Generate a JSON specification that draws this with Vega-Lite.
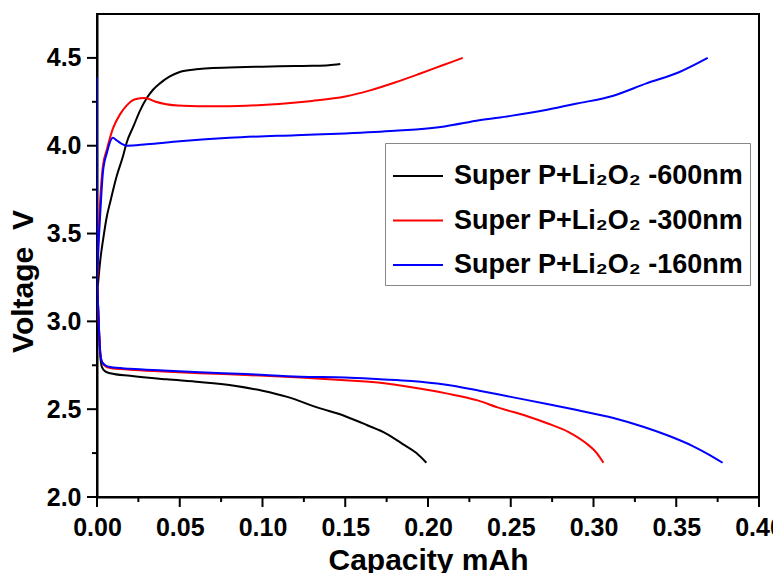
{
  "$schema": "https://vega.github.io/schema/vega-lite/v6.json",
  "width": 662,
  "height": 483,
  "autosize": {"type": "none"},
  "padding": {"left": 97, "top": 14, "right": 14, "bottom": 76},
  "background": "white",
  "config": {
    "view": {"stroke": "black", "strokeWidth": 2},
    "font": "Liberation Sans",
    "axis": {
      "domainColor": "black", "domainWidth": 2, "ticks": false,
      "grid": false, "labelFont": "Liberation Sans", "labelFontWeight": "bold", "labelFontSize": 25,
      "labelColor": "black", "titleFont": "Liberation Sans", "titleFontWeight": "bold",
      "titleFontSize": 30, "titleColor": "black", "labelOverlap": false, "labelFlush": false
    }
  },
  "layer": [
    {
      "data": {"values": [
        {"tick": 0}, {"tick": 0.05}, {"tick": 0.1}, {"tick": 0.15}, {"tick": 0.2},
        {"tick": 0.25}, {"tick": 0.3}, {"tick": 0.35}, {"tick": 0.4}
      ]},
      "mark": {"type": "rule", "color": "black", "strokeWidth": 2, "y2Offset": 10},
      "encoding": {
        "x": {"field": "tick", "type": "quantitative", "title": "Capacity mAh"},
        "y": {"datum": 2.0, "type": "quantitative", "title": "Voltage \u00a0V"},
        "y2": {"datum": 2.0}
      }
    },
    {
      "data": {"values": [
        {"tick": 0.025}, {"tick": 0.075}, {"tick": 0.125}, {"tick": 0.175},
        {"tick": 0.225}, {"tick": 0.275}, {"tick": 0.325}, {"tick": 0.375}
      ]},
      "mark": {"type": "rule", "color": "black", "strokeWidth": 2, "y2Offset": 5},
      "encoding": {
        "x": {"field": "tick", "type": "quantitative", "title": "Capacity mAh"},
        "y": {"datum": 2.0, "type": "quantitative", "title": "Voltage \u00a0V"},
        "y2": {"datum": 2.0}
      }
    },
    {
      "data": {"values": [
        {"tick": 2.0}, {"tick": 2.5}, {"tick": 3.0}, {"tick": 3.5}, {"tick": 4.0}, {"tick": 4.5}
      ]},
      "mark": {"type": "rule", "color": "black", "strokeWidth": 2, "x2Offset": -10},
      "encoding": {
        "y": {"field": "tick", "type": "quantitative", "title": "Voltage \u00a0V"},
        "x": {"datum": 0, "type": "quantitative", "title": "Capacity mAh"},
        "x2": {"datum": 0}
      }
    },
    {
      "data": {"values": [
        {"tick": 2.25}, {"tick": 2.75}, {"tick": 3.25}, {"tick": 3.75}, {"tick": 4.25}
      ]},
      "mark": {"type": "rule", "color": "black", "strokeWidth": 2, "x2Offset": -5},
      "encoding": {
        "y": {"field": "tick", "type": "quantitative", "title": "Voltage \u00a0V"},
        "x": {"datum": 0, "type": "quantitative", "title": "Capacity mAh"},
        "x2": {"datum": 0}
      }
    },
    {
      "data": {"values": [
        {"series": "Super P+Li₂O₂ -600nm", "branch": "c", "i": 1, "capacity": 0.0005, "voltage": 3.2},
        {"series": "Super P+Li₂O₂ -600nm", "branch": "c", "i": 2, "capacity": 0.002, "voltage": 3.35},
        {"series": "Super P+Li₂O₂ -600nm", "branch": "c", "i": 3, "capacity": 0.0036, "voltage": 3.46},
        {"series": "Super P+Li₂O₂ -600nm", "branch": "c", "i": 4, "capacity": 0.006, "voltage": 3.6},
        {"series": "Super P+Li₂O₂ -600nm", "branch": "c", "i": 5, "capacity": 0.008, "voltage": 3.68},
        {"series": "Super P+Li₂O₂ -600nm", "branch": "c", "i": 6, "capacity": 0.012, "voltage": 3.83},
        {"series": "Super P+Li₂O₂ -600nm", "branch": "c", "i": 7, "capacity": 0.0157, "voltage": 3.94},
        {"series": "Super P+Li₂O₂ -600nm", "branch": "c", "i": 8, "capacity": 0.018, "voltage": 4.02},
        {"series": "Super P+Li₂O₂ -600nm", "branch": "c", "i": 9, "capacity": 0.022, "voltage": 4.11},
        {"series": "Super P+Li₂O₂ -600nm", "branch": "c", "i": 10, "capacity": 0.026, "voltage": 4.2},
        {"series": "Super P+Li₂O₂ -600nm", "branch": "c", "i": 11, "capacity": 0.03, "voltage": 4.27},
        {"series": "Super P+Li₂O₂ -600nm", "branch": "c", "i": 12, "capacity": 0.034, "voltage": 4.32},
        {"series": "Super P+Li₂O₂ -600nm", "branch": "c", "i": 13, "capacity": 0.038, "voltage": 4.355},
        {"series": "Super P+Li₂O₂ -600nm", "branch": "c", "i": 14, "capacity": 0.044, "voltage": 4.395},
        {"series": "Super P+Li₂O₂ -600nm", "branch": "c", "i": 15, "capacity": 0.05, "voltage": 4.42},
        {"series": "Super P+Li₂O₂ -600nm", "branch": "c", "i": 16, "capacity": 0.06, "voltage": 4.435},
        {"series": "Super P+Li₂O₂ -600nm", "branch": "c", "i": 17, "capacity": 0.07, "voltage": 4.443},
        {"series": "Super P+Li₂O₂ -600nm", "branch": "c", "i": 18, "capacity": 0.08, "voltage": 4.445},
        {"series": "Super P+Li₂O₂ -600nm", "branch": "c", "i": 19, "capacity": 0.09, "voltage": 4.448},
        {"series": "Super P+Li₂O₂ -600nm", "branch": "c", "i": 20, "capacity": 0.1, "voltage": 4.45},
        {"series": "Super P+Li₂O₂ -600nm", "branch": "c", "i": 21, "capacity": 0.11, "voltage": 4.452},
        {"series": "Super P+Li₂O₂ -600nm", "branch": "c", "i": 22, "capacity": 0.12, "voltage": 4.454},
        {"series": "Super P+Li₂O₂ -600nm", "branch": "c", "i": 23, "capacity": 0.13, "voltage": 4.455},
        {"series": "Super P+Li₂O₂ -600nm", "branch": "c", "i": 24, "capacity": 0.14, "voltage": 4.458},
        {"series": "Super P+Li₂O₂ -600nm", "branch": "c", "i": 25, "capacity": 0.147, "voltage": 4.465},

        {"series": "Super P+Li₂O₂ -600nm", "branch": "d", "i": 1, "capacity": 0.0, "voltage": 3.25},
        {"series": "Super P+Li₂O₂ -600nm", "branch": "d", "i": 2, "capacity": 0.001, "voltage": 3.0},
        {"series": "Super P+Li₂O₂ -600nm", "branch": "d", "i": 3, "capacity": 0.002, "voltage": 2.8},
        {"series": "Super P+Li₂O₂ -600nm", "branch": "d", "i": 4, "capacity": 0.003, "voltage": 2.74},
        {"series": "Super P+Li₂O₂ -600nm", "branch": "d", "i": 5, "capacity": 0.005, "voltage": 2.715},
        {"series": "Super P+Li₂O₂ -600nm", "branch": "d", "i": 6, "capacity": 0.008, "voltage": 2.705},
        {"series": "Super P+Li₂O₂ -600nm", "branch": "d", "i": 7, "capacity": 0.02, "voltage": 2.69},
        {"series": "Super P+Li₂O₂ -600nm", "branch": "d", "i": 8, "capacity": 0.042, "voltage": 2.67},
        {"series": "Super P+Li₂O₂ -600nm", "branch": "d", "i": 9, "capacity": 0.062, "voltage": 2.655},
        {"series": "Super P+Li₂O₂ -600nm", "branch": "d", "i": 10, "capacity": 0.082, "voltage": 2.635},
        {"series": "Super P+Li₂O₂ -600nm", "branch": "d", "i": 11, "capacity": 0.1, "voltage": 2.605},
        {"series": "Super P+Li₂O₂ -600nm", "branch": "d", "i": 12, "capacity": 0.115, "voltage": 2.57},
        {"series": "Super P+Li₂O₂ -600nm", "branch": "d", "i": 13, "capacity": 0.133, "voltage": 2.51},
        {"series": "Super P+Li₂O₂ -600nm", "branch": "d", "i": 14, "capacity": 0.15, "voltage": 2.46},
        {"series": "Super P+Li₂O₂ -600nm", "branch": "d", "i": 15, "capacity": 0.163, "voltage": 2.41},
        {"series": "Super P+Li₂O₂ -600nm", "branch": "d", "i": 16, "capacity": 0.175, "voltage": 2.36},
        {"series": "Super P+Li₂O₂ -600nm", "branch": "d", "i": 17, "capacity": 0.185, "voltage": 2.3},
        {"series": "Super P+Li₂O₂ -600nm", "branch": "d", "i": 18, "capacity": 0.193, "voltage": 2.25},
        {"series": "Super P+Li₂O₂ -600nm", "branch": "d", "i": 19, "capacity": 0.199, "voltage": 2.195},

        {"series": "Super P+Li₂O₂ -300nm", "branch": "c", "i": 1, "capacity": 0.0003, "voltage": 3.25},
        {"series": "Super P+Li₂O₂ -300nm", "branch": "c", "i": 2, "capacity": 0.001, "voltage": 3.5},
        {"series": "Super P+Li₂O₂ -300nm", "branch": "c", "i": 3, "capacity": 0.002, "voltage": 3.7},
        {"series": "Super P+Li₂O₂ -300nm", "branch": "c", "i": 4, "capacity": 0.0035, "voltage": 3.88},
        {"series": "Super P+Li₂O₂ -300nm", "branch": "c", "i": 5, "capacity": 0.006, "voltage": 3.98},
        {"series": "Super P+Li₂O₂ -300nm", "branch": "c", "i": 6, "capacity": 0.0097, "voltage": 4.1},
        {"series": "Super P+Li₂O₂ -300nm", "branch": "c", "i": 7, "capacity": 0.014, "voltage": 4.18},
        {"series": "Super P+Li₂O₂ -300nm", "branch": "c", "i": 8, "capacity": 0.018, "voltage": 4.23},
        {"series": "Super P+Li₂O₂ -300nm", "branch": "c", "i": 9, "capacity": 0.023, "voltage": 4.265},
        {"series": "Super P+Li₂O₂ -300nm", "branch": "c", "i": 10, "capacity": 0.029, "voltage": 4.272},
        {"series": "Super P+Li₂O₂ -300nm", "branch": "c", "i": 11, "capacity": 0.035, "voltage": 4.252},
        {"series": "Super P+Li₂O₂ -300nm", "branch": "c", "i": 12, "capacity": 0.041, "voltage": 4.238},
        {"series": "Super P+Li₂O₂ -300nm", "branch": "c", "i": 13, "capacity": 0.052, "voltage": 4.228},
        {"series": "Super P+Li₂O₂ -300nm", "branch": "c", "i": 14, "capacity": 0.07, "voltage": 4.225},
        {"series": "Super P+Li₂O₂ -300nm", "branch": "c", "i": 15, "capacity": 0.09, "voltage": 4.228},
        {"series": "Super P+Li₂O₂ -300nm", "branch": "c", "i": 16, "capacity": 0.11, "voltage": 4.238},
        {"series": "Super P+Li₂O₂ -300nm", "branch": "c", "i": 17, "capacity": 0.13, "voltage": 4.255},
        {"series": "Super P+Li₂O₂ -300nm", "branch": "c", "i": 18, "capacity": 0.15, "voltage": 4.28},
        {"series": "Super P+Li₂O₂ -300nm", "branch": "c", "i": 19, "capacity": 0.165, "voltage": 4.315},
        {"series": "Super P+Li₂O₂ -300nm", "branch": "c", "i": 20, "capacity": 0.18, "voltage": 4.36},
        {"series": "Super P+Li₂O₂ -300nm", "branch": "c", "i": 21, "capacity": 0.195, "voltage": 4.41},
        {"series": "Super P+Li₂O₂ -300nm", "branch": "c", "i": 22, "capacity": 0.208, "voltage": 4.455},
        {"series": "Super P+Li₂O₂ -300nm", "branch": "c", "i": 23, "capacity": 0.221, "voltage": 4.5},

        {"series": "Super P+Li₂O₂ -300nm", "branch": "d", "i": 1, "capacity": 0.0, "voltage": 3.25},
        {"series": "Super P+Li₂O₂ -300nm", "branch": "d", "i": 2, "capacity": 0.001, "voltage": 3.0},
        {"series": "Super P+Li₂O₂ -300nm", "branch": "d", "i": 3, "capacity": 0.002, "voltage": 2.82},
        {"series": "Super P+Li₂O₂ -300nm", "branch": "d", "i": 4, "capacity": 0.003, "voltage": 2.77},
        {"series": "Super P+Li₂O₂ -300nm", "branch": "d", "i": 5, "capacity": 0.005, "voltage": 2.745},
        {"series": "Super P+Li₂O₂ -300nm", "branch": "d", "i": 6, "capacity": 0.008, "voltage": 2.735},
        {"series": "Super P+Li₂O₂ -300nm", "branch": "d", "i": 7, "capacity": 0.02, "voltage": 2.725},
        {"series": "Super P+Li₂O₂ -300nm", "branch": "d", "i": 8, "capacity": 0.04, "voltage": 2.715},
        {"series": "Super P+Li₂O₂ -300nm", "branch": "d", "i": 9, "capacity": 0.062, "voltage": 2.705},
        {"series": "Super P+Li₂O₂ -300nm", "branch": "d", "i": 10, "capacity": 0.09, "voltage": 2.695},
        {"series": "Super P+Li₂O₂ -300nm", "branch": "d", "i": 11, "capacity": 0.123, "voltage": 2.68},
        {"series": "Super P+Li₂O₂ -300nm", "branch": "d", "i": 12, "capacity": 0.15, "voltage": 2.665},
        {"series": "Super P+Li₂O₂ -300nm", "branch": "d", "i": 13, "capacity": 0.171, "voltage": 2.65},
        {"series": "Super P+Li₂O₂ -300nm", "branch": "d", "i": 14, "capacity": 0.19, "voltage": 2.625},
        {"series": "Super P+Li₂O₂ -300nm", "branch": "d", "i": 15, "capacity": 0.211, "voltage": 2.59},
        {"series": "Super P+Li₂O₂ -300nm", "branch": "d", "i": 16, "capacity": 0.23, "voltage": 2.55},
        {"series": "Super P+Li₂O₂ -300nm", "branch": "d", "i": 17, "capacity": 0.242, "voltage": 2.51},
        {"series": "Super P+Li₂O₂ -300nm", "branch": "d", "i": 18, "capacity": 0.26, "voltage": 2.46},
        {"series": "Super P+Li₂O₂ -300nm", "branch": "d", "i": 19, "capacity": 0.272, "voltage": 2.42},
        {"series": "Super P+Li₂O₂ -300nm", "branch": "d", "i": 20, "capacity": 0.285, "voltage": 2.37},
        {"series": "Super P+Li₂O₂ -300nm", "branch": "d", "i": 21, "capacity": 0.295, "voltage": 2.31},
        {"series": "Super P+Li₂O₂ -300nm", "branch": "d", "i": 22, "capacity": 0.302, "voltage": 2.25},
        {"series": "Super P+Li₂O₂ -300nm", "branch": "d", "i": 23, "capacity": 0.306, "voltage": 2.195},

        {"series": "Super P+Li₂O₂ -160nm", "branch": "c", "i": 1, "capacity": 0.0, "voltage": 4.39},
        {"series": "Super P+Li₂O₂ -160nm", "branch": "c", "i": 2, "capacity": 0.0, "voltage": 3.25},
        {"series": "Super P+Li₂O₂ -160nm", "branch": "c", "i": 3, "capacity": 0.0008, "voltage": 3.42},
        {"series": "Super P+Li₂O₂ -160nm", "branch": "c", "i": 4, "capacity": 0.002, "voltage": 3.62},
        {"series": "Super P+Li₂O₂ -160nm", "branch": "c", "i": 5, "capacity": 0.0036, "voltage": 3.85},
        {"series": "Super P+Li₂O₂ -160nm", "branch": "c", "i": 6, "capacity": 0.006, "voltage": 3.96},
        {"series": "Super P+Li₂O₂ -160nm", "branch": "c", "i": 7, "capacity": 0.0095, "voltage": 4.045},
        {"series": "Super P+Li₂O₂ -160nm", "branch": "c", "i": 8, "capacity": 0.012, "voltage": 4.03},
        {"series": "Super P+Li₂O₂ -160nm", "branch": "c", "i": 9, "capacity": 0.015, "voltage": 4.01},
        {"series": "Super P+Li₂O₂ -160nm", "branch": "c", "i": 10, "capacity": 0.018, "voltage": 4.0},
        {"series": "Super P+Li₂O₂ -160nm", "branch": "c", "i": 11, "capacity": 0.03, "voltage": 4.008},
        {"series": "Super P+Li₂O₂ -160nm", "branch": "c", "i": 12, "capacity": 0.05, "voltage": 4.025},
        {"series": "Super P+Li₂O₂ -160nm", "branch": "c", "i": 13, "capacity": 0.08, "voltage": 4.045},
        {"series": "Super P+Li₂O₂ -160nm", "branch": "c", "i": 14, "capacity": 0.12, "voltage": 4.06},
        {"series": "Super P+Li₂O₂ -160nm", "branch": "c", "i": 15, "capacity": 0.15, "voltage": 4.07},
        {"series": "Super P+Li₂O₂ -160nm", "branch": "c", "i": 16, "capacity": 0.18, "voltage": 4.085},
        {"series": "Super P+Li₂O₂ -160nm", "branch": "c", "i": 17, "capacity": 0.21, "voltage": 4.11},
        {"series": "Super P+Li₂O₂ -160nm", "branch": "c", "i": 18, "capacity": 0.231, "voltage": 4.145},
        {"series": "Super P+Li₂O₂ -160nm", "branch": "c", "i": 19, "capacity": 0.25, "voltage": 4.17},
        {"series": "Super P+Li₂O₂ -160nm", "branch": "c", "i": 20, "capacity": 0.272, "voltage": 4.205},
        {"series": "Super P+Li₂O₂ -160nm", "branch": "c", "i": 21, "capacity": 0.29, "voltage": 4.24},
        {"series": "Super P+Li₂O₂ -160nm", "branch": "c", "i": 22, "capacity": 0.312, "voltage": 4.285},
        {"series": "Super P+Li₂O₂ -160nm", "branch": "c", "i": 23, "capacity": 0.332, "voltage": 4.355},
        {"series": "Super P+Li₂O₂ -160nm", "branch": "c", "i": 24, "capacity": 0.352, "voltage": 4.42},
        {"series": "Super P+Li₂O₂ -160nm", "branch": "c", "i": 25, "capacity": 0.369, "voltage": 4.5},

        {"series": "Super P+Li₂O₂ -160nm", "branch": "d", "i": 1, "capacity": 0.0, "voltage": 3.25},
        {"series": "Super P+Li₂O₂ -160nm", "branch": "d", "i": 2, "capacity": 0.001, "voltage": 3.0},
        {"series": "Super P+Li₂O₂ -160nm", "branch": "d", "i": 3, "capacity": 0.002, "voltage": 2.82},
        {"series": "Super P+Li₂O₂ -160nm", "branch": "d", "i": 4, "capacity": 0.003, "voltage": 2.77},
        {"series": "Super P+Li₂O₂ -160nm", "branch": "d", "i": 5, "capacity": 0.005, "voltage": 2.75},
        {"series": "Super P+Li₂O₂ -160nm", "branch": "d", "i": 6, "capacity": 0.008, "voltage": 2.74},
        {"series": "Super P+Li₂O₂ -160nm", "branch": "d", "i": 7, "capacity": 0.02, "voltage": 2.73},
        {"series": "Super P+Li₂O₂ -160nm", "branch": "d", "i": 8, "capacity": 0.04, "voltage": 2.72},
        {"series": "Super P+Li₂O₂ -160nm", "branch": "d", "i": 9, "capacity": 0.062, "voltage": 2.71},
        {"series": "Super P+Li₂O₂ -160nm", "branch": "d", "i": 10, "capacity": 0.09, "voltage": 2.7},
        {"series": "Super P+Li₂O₂ -160nm", "branch": "d", "i": 11, "capacity": 0.123, "voltage": 2.685},
        {"series": "Super P+Li₂O₂ -160nm", "branch": "d", "i": 12, "capacity": 0.15, "voltage": 2.68},
        {"series": "Super P+Li₂O₂ -160nm", "branch": "d", "i": 13, "capacity": 0.171, "voltage": 2.67},
        {"series": "Super P+Li₂O₂ -160nm", "branch": "d", "i": 14, "capacity": 0.19, "voltage": 2.66},
        {"series": "Super P+Li₂O₂ -160nm", "branch": "d", "i": 15, "capacity": 0.21, "voltage": 2.64},
        {"series": "Super P+Li₂O₂ -160nm", "branch": "d", "i": 16, "capacity": 0.231, "voltage": 2.605},
        {"series": "Super P+Li₂O₂ -160nm", "branch": "d", "i": 17, "capacity": 0.25, "voltage": 2.57},
        {"series": "Super P+Li₂O₂ -160nm", "branch": "d", "i": 18, "capacity": 0.272, "voltage": 2.53},
        {"series": "Super P+Li₂O₂ -160nm", "branch": "d", "i": 19, "capacity": 0.29, "voltage": 2.495},
        {"series": "Super P+Li₂O₂ -160nm", "branch": "d", "i": 20, "capacity": 0.312, "voltage": 2.45},
        {"series": "Super P+Li₂O₂ -160nm", "branch": "d", "i": 21, "capacity": 0.33, "voltage": 2.4},
        {"series": "Super P+Li₂O₂ -160nm", "branch": "d", "i": 22, "capacity": 0.345, "voltage": 2.35},
        {"series": "Super P+Li₂O₂ -160nm", "branch": "d", "i": 23, "capacity": 0.36, "voltage": 2.29},
        {"series": "Super P+Li₂O₂ -160nm", "branch": "d", "i": 24, "capacity": 0.37, "voltage": 2.24},
        {"series": "Super P+Li₂O₂ -160nm", "branch": "d", "i": 25, "capacity": 0.378, "voltage": 2.195}
      ]},
      "mark": {"type": "line", "strokeWidth": 2, "interpolate": "monotone", "clip": true},
      "encoding": {
        "x": {
          "field": "capacity", "type": "quantitative",
          "scale": {"domain": [0, 0.4], "nice": false, "zero": false},
          "axis": {
            "title": "Capacity mAh", "format": ".2f", "ticks": false,
            "values": [0, 0.05, 0.1, 0.15, 0.2, 0.25, 0.3, 0.35, 0.4],
            "labelPadding": 18, "titlePadding": 5
          }
        },
        "y": {
          "field": "voltage", "type": "quantitative",
          "scale": {"domain": [2.0, 4.75], "nice": false, "zero": false},
          "axis": {
            "title": "Voltage \u00a0V", "format": ".1f", "ticks": false,
            "values": [2.0, 2.5, 3.0, 3.5, 4.0, 4.5],
            "labelPadding": 16, "titlePadding": 8, "titleY": 267
          }
        },
        "color": {
          "field": "series", "type": "nominal",
          "scale": {
            "domain": ["Super P+Li₂O₂ -600nm", "Super P+Li₂O₂ -300nm", "Super P+Li₂O₂ -160nm"],
            "range": ["#000000", "#ff0000", "#0000ff"]
          },
          "legend": {
            "title": null, "orient": "none", "legendX": 288, "legendY": 129,
            "strokeColor": "#888888", "fillColor": "white", "padding": 7,
            "symbolType": "stroke", "symbolSize": 2500, "symbolStrokeWidth": 2,
            "labelFont": "Liberation Sans", "labelFontWeight": "bold", "labelFontSize": 27,
            "labelColor": "black", "labelLimit": 0, "labelOffset": 10, "rowPadding": 5.5
          }
        },
        "detail": {"field": "branch", "type": "nominal"},
        "order": {"field": "i", "type": "quantitative"}
      }
    }
  ]
}
